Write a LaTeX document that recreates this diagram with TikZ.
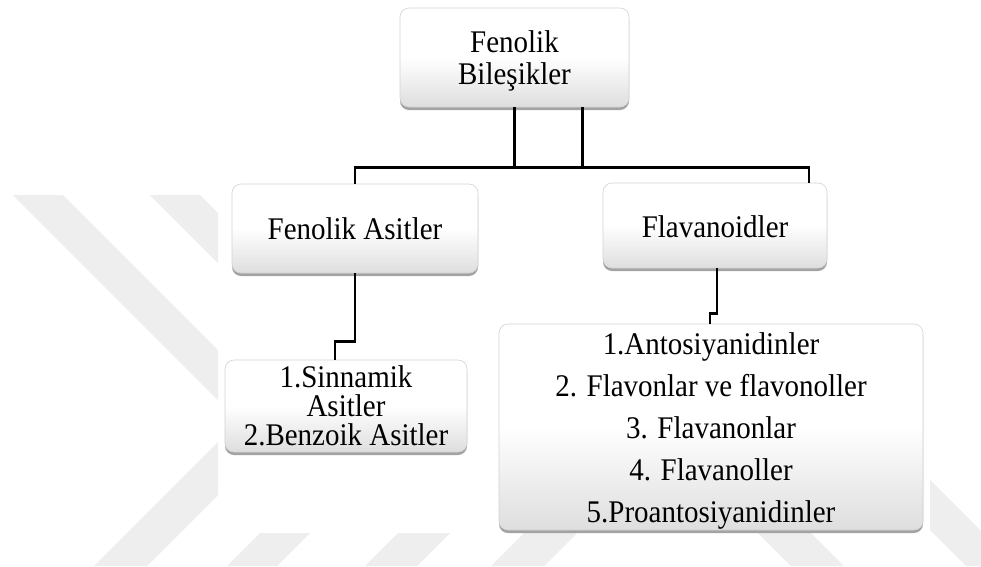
\documentclass[tikz,border=0pt]{standalone}
\usepackage{fontspec}
\setmainfont{Liberation Serif}[FakeStretch=0.92]
\usetikzlibrary{shadows}
\definecolor{wm}{RGB}{238,238,238}
\definecolor{boxgray}{RGB}{222,222,222}
\tikzset{
  box/.style={rounded corners=9pt, draw=gray!35, line width=0.6pt,
    top color=white, bottom color=boxgray, middle color=white,
    drop shadow={shadow xshift=0pt, shadow yshift=-3pt, opacity=0.6, fill=black!60},
    align=center, inner sep=0pt, font=\fontsize{31.5}{32}\selectfont},
  conn/.style={draw=black, line width=2.4pt},
  wmark/.style={fill=wm, draw=none}
}
\begin{document}
\begin{tikzpicture}[x=1pt,y=-1pt]
\useasboundingbox (0,0) rectangle (981,566);
\fill[white] (0,0) rectangle (981,566);
% watermark
\fill[wmark] (13,195) -- (63,195) -- (218,350) -- (218,400) -- cycle;
\fill[wmark] (150,195) -- (200,195) -- (218,213) -- (218,263) -- cycle;
\fill[wmark] (94,566) -- (147,566) -- (218,495) -- (218,442) -- cycle;
\fill[wmark] (227,566) -- (277,566) -- (310,533) -- (260,533) -- cycle;
\fill[wmark] (365,566) -- (417,566) -- (450,533) -- (398,533) -- cycle;
\fill[wmark] (491,566) -- (544,566) -- (577,533) -- (524,533) -- cycle;
\fill[wmark] (758,533) -- (811,533) -- (844,566) -- (791,566) -- cycle;
\fill[wmark] (930,480) -- (981,531) -- (981,566) -- (966,566) -- (930,530) -- cycle;
% nodes
\node[box, minimum width=229pt, minimum height=99pt] (top) at (514.5,57.5) {\rule{0pt}{28pt}Fenolik\\Bileşikler};
\node[box, minimum width=246pt, minimum height=89pt] (fa) at (355,228.5) {Fenolik Asitler};
\node[box, minimum width=224pt, minimum height=85pt] (fl) at (715,225.5) {\rule{0pt}{25pt}Flavanoidler};
\node[box, minimum width=242pt, minimum height=92pt, font=\fontsize{31.5}{29}\selectfont] (sin) at (346,406) {1.Sinnamik\\Asitler\\2.Benzoik Asitler};
\node[box, minimum width=424pt, minimum height=206pt, font=\fontsize{31.5}{42}\selectfont] (big) at (711,427) {\rule{0pt}{30pt}1.Antosiyanidinler\\2. Flavonlar ve flavonoller\\3. Flavanonlar\\4. Flavanoller\\5.Proantosiyanidinler};
% connectors
\draw[conn] (top.south) -- ++(0,60) -| ([xshift=94pt]fl.north);
\draw[conn] ([xshift=68pt]top.south) -- ++(0,60) -| (fa.north);
\draw[conn] (fa.south) -- ++(0,68) -| ([xshift=-11pt]sin.north);
\draw[conn] ([xshift=2pt]fl.south) -- ++(0,45) -| ([xshift=-1pt]big.north);
\end{tikzpicture}
\end{document}
